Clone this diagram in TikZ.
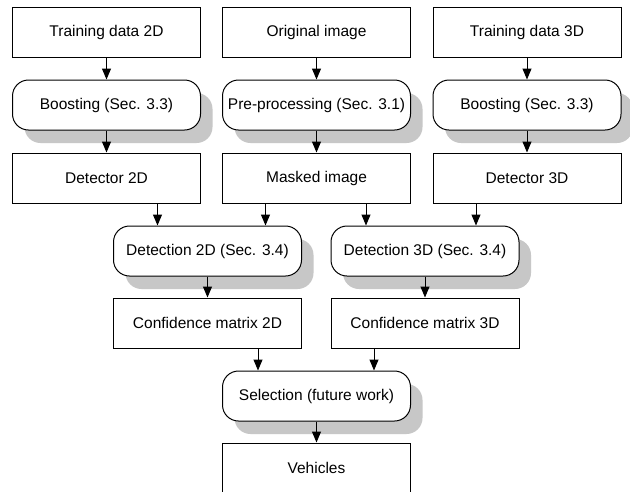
\documentclass[tikz,border=0pt]{standalone}
\usepackage{fontspec}
\setmainfont{Liberation Sans}
\usetikzlibrary{arrows.meta,shadows}

\begin{document}
\begin{tikzpicture}[x=1pt,y=-1pt,
    font=\fontsize{15.5}{18}\selectfont,
    databox/.style={draw, line width=1pt, minimum width=188pt, minimum height=50pt, inner sep=0pt},
    procbox/.style={databox, rounded corners=16pt, fill=white,
        drop shadow={shadow xshift=12pt, shadow yshift=-13pt, fill=black!22, opacity=1}},
    arr/.style={line width=1pt, -{Triangle[length=11pt,width=9pt]}}]
    % Page frame
    \clip (0,0) rectangle (630,491);
    \fill[white] (0,0) rectangle (630,491);

    % Inputs
    \node[databox] (traintwo) at (106.5,32.5) {Training data 2D};
    \node[databox] (orig) at (316.5,32.5) {Original image};
    \node[databox] (trainthree) at (527,32.5) {Training data 3D};

    % Training / pre-processing steps
    \node[procbox] (boosttwo) at (106.5,105) {Boosting (Sec. 3.3)};
    \node[procbox] (preproc) at (316.5,105) {Pre-processing (Sec. 3.1)};
    \node[procbox] (boostthree) at (527,105) {Boosting (Sec. 3.3)};

    % Detectors and mask
    \node[databox] (dettwo) at (106.5,178) {Detector 2D};
    \node[databox] (masked) at (316.5,178) {Masked image};
    \node[databox] (detthree) at (527,178) {Detector 3D};

    % Detection
    \node[procbox] (detecttwo) at (207.5,251) {Detection 2D (Sec. 3.4)};
    \node[procbox] (detectthree) at (425,251) {Detection 3D (Sec. 3.4)};

    % Confidence
    \node[databox] (conftwo) at (207.5,323) {Confidence matrix 2D};
    \node[databox] (confthree) at (425,323) {Confidence matrix 3D};

    % Output
    \node[procbox] (select) at (316.5,396) {Selection (future work)};
    \node[databox] (vehicles) at (316.5,468) {Vehicles};

    % Arrow feet
    \coordinate (inA) at ([xshift=-50pt]detecttwo.north);
    \coordinate (inB) at ([xshift=58pt]detecttwo.north);
    \coordinate (inC) at ([xshift=-59pt]detectthree.north);
    \coordinate (inD) at ([xshift=51pt]detectthree.north);
    \coordinate (inE) at ([xshift=-58.5pt]select.north);
    \coordinate (inF) at ([xshift=57.5pt]select.north);

    % Arrows
    % -- columns
    \draw[arr] (traintwo) -- (boosttwo);
    \draw[arr] (boosttwo) -- (dettwo);
    \draw[arr] (orig) -- (preproc);
    \draw[arr] (preproc) -- (masked);
    \draw[arr] (trainthree) -- (boostthree);
    \draw[arr] (boostthree) -- (detthree);

    % -- into detection
    \draw[arr] (dettwo.south -| inA) -- (inA);
    \draw[arr] (masked.south -| inB) -- (inB);
    \draw[arr] (masked.south -| inC) -- (inC);
    \draw[arr] (detthree.south -| inD) -- (inD);

    % -- to selection
    \draw[arr] (detecttwo.south) -- (conftwo.north);
    \draw[arr] (detectthree.south) -- (confthree.north);
    \draw[arr] (conftwo.south -| inE) -- (inE);
    \draw[arr] (confthree.south -| inF) -- (inF);
    \draw[arr] (select) -- (vehicles);
\end{tikzpicture}
\end{document}
